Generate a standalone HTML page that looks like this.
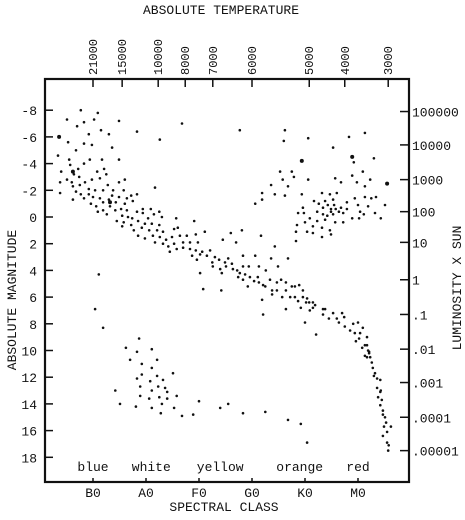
<!DOCTYPE html>
<html><head><meta charset="utf-8"><style>
html,body{margin:0;padding:0;background:#fff;}
svg{display:block;}
text{font-family:"Liberation Mono",monospace;fill:#111;}
</style></head><body>
<svg id="chart" width="465" height="520" viewBox="0 0 465 520" xmlns="http://www.w3.org/2000/svg">
<g id="axes"></g><g id="stars"></g>
</svg>
<script>
// Data: [spectral subclass (B0=0, A0=10, F0=20, G0=30, K0=40, M0=50), absolute magnitude]
const mainSequence = [[-2.3,-8.0],[0.9,-7.8],[-4.9,-7.3],[-1.7,-7.1],[0.2,-7.3],[4.9,-7.2],[-3.0,-6.8],[16.8,-7.0],[1.5,-6.5],[3.0,-6.2],[-0.8,-6.2],[8.3,-6.4],[12.6,-5.8],[-4.7,-5.6],[-1.7,-5.5],[-0.2,-5.4],[3.6,-5.2],[-3.2,-5.0],[-6.6,-4.6],[-4.5,-4.3],[-0.6,-4.3],[1.7,-4.3],[4.9,-4.3],[-1.7,-4.0],[-4.3,-3.9],[-2.8,-3.6],[2.1,-3.6],[-6.0,-3.4],[-3.6,-3.2],[0.8,-3.4],[2.5,-3.2],[-2.6,-3.0],[6.0,-2.8],[-4.9,-2.8],[-6.2,-2.6],[-4.0,-2.6],[-1.5,-2.6],[-0.2,-2.8],[1.3,-2.9],[4.9,-2.6],[-3.8,-2.3],[-2.5,-2.4],[2.8,-2.4],[11.7,-2.2],[-0.8,-2.1],[0.4,-2.0],[1.9,-2.0],[3.8,-2.0],[5.8,-2.0],[-6.2,-1.8],[-3.2,-1.9],[-2.3,-1.7],[-0.8,-1.7],[8.3,-1.7],[3.6,-1.6],[0,-1.5],[4.9,-1.5],[-3.8,-1.3],[-1.7,-1.4],[1.3,-1.4],[7.2,-1.6],[3.0,-1.3],[6.4,-1.4],[-0.4,-1.0],[1.9,-1.1],[4.3,-1.1],[7.5,-1.2],[0.6,-0.8],[6.0,-1.0],[3.2,-0.8],[1.9,-0.5],[9.4,-0.6],[10.9,-0.6],[5.3,-0.6],[0.9,-0.4],[4.2,-0.5],[6.4,-0.5],[8.3,-0.4],[12.5,-0.4],[2.6,-0.2],[5.5,-0.1],[9.4,-0.3],[11.5,-0.2],[6.6,0],[7.4,0.1],[10.4,0.1],[13.0,0],[15.7,0.1],[19.1,0.3],[4.5,0.3],[5.8,0.4],[8.5,0.3],[9.8,0.5],[11.1,0.5],[12.5,0.6],[5.5,0.7],[7.2,0.6],[7.7,1.0],[9.2,0.8],[10.6,1.0],[12.1,1.0],[13.2,1.1],[15.3,0.9],[16.0,0.8],[8.5,1.4],[9.8,1.6],[11.3,1.4],[12.6,1.5],[13.8,1.7],[14.9,1.5],[16.4,1.4],[17.7,1.4],[19.4,1.3],[21.1,1.1],[24.5,1.7],[11.7,1.9],[13.2,2.0],[14.2,2.2],[15.3,2.0],[17.0,1.9],[18.3,1.9],[19.8,1.9],[15.8,2.4],[17.0,2.3],[18.3,2.4],[19.4,2.5],[20.6,2.6],[22.1,2.5],[14.5,2.6],[18.7,2.9],[20.2,2.8],[21.5,2.9],[23.0,3.0],[23.8,3.2],[19.6,3.2],[22.5,3.4],[24.0,3.9],[24.3,4.2],[22.6,3.7],[25.1,3.7],[24.9,3.4],[25.5,3.1],[26.2,3.5],[26.4,3.9],[27.2,4.0],[28.3,3.7],[29.4,3.7],[27.7,4.2],[28.7,4.3],[27.4,4.5],[28.3,4.7],[29.6,4.5],[30.4,4.8],[29.2,5.2],[31.3,4.9],[31.1,4.5],[32.6,4.0],[32.1,5.1],[33.4,4.7],[31.3,3.7],[34.7,4.9],[35.5,4.7],[36.4,4.9],[33.8,5.5],[34.7,5.5],[32.5,5.2],[33.8,5.8],[35.7,6.0],[36.4,5.5],[37.5,5.2],[38.1,5.2],[38.9,5.1],[39.6,5.5],[37.2,6.0],[38.1,6.0],[38.7,6.3],[39.6,6.0],[40.4,6.1],[40.8,6.4],[41.5,6.4],[41.9,6.6],[40.2,6.4],[39.2,6.8],[40.9,7.0],[41.5,6.8],[43.4,6.9],[43.8,6.9],[43.4,7.3],[45.3,7.2],[44.5,7.6],[46.0,7.6],[47.0,7.2],[47.4,7.5],[46.4,7.9],[47.5,8.2],[48.5,8.5],[49.1,8.0],[49.4,8.7],[50.4,8.7],[50.2,9.1],[49.6,9.3],[51.3,9.6],[51.7,9.6],[50.8,9.8],[52.1,10.1],[51.3,10.4],[51.7,10.5],[50.0,7.9],[50.9,8.3],[51.7,9.0],[51.9,10.0],[52.3,10.5],[52.6,10.9],[52.8,11.3],[53.2,11.7],[53.6,12.1],[54.2,12.2],[53.6,12.8],[54.2,13.1],[53.8,13.5],[54.5,13.7],[54.2,14.1],[54.7,14.5],[54.7,14.8],[55.1,15.0],[55.3,15.4],[54.9,15.7],[56.2,15.7],[55.5,16.1],[54.7,16.4],[55.5,16.9],[55.8,17.1],[55.7,17.5],[54.3,13.0],[53.0,11.9],[52.1,10.2]];
const scattered = [[1.1,4.3],[20.2,4.2],[20.8,5.4],[24.2,5.5],[31.9,6.2],[32.1,7.3],[36.4,6.9],[40.0,7.9],[42.1,8.8],[26.0,1.2],[27.0,1.9],[28.1,1.0],[31.7,1.4],[28.3,2.9],[30.6,2.9],[34.3,2.2],[33.6,3.1],[34.9,3.7],[36.8,3.1]];
const whiteDwarfs = [[0.4,6.9],[1.9,8.3],[8.7,9.1],[6.2,9.8],[8.3,10.1],[11.1,9.9],[7.0,10.7],[9.2,11.0],[12.1,10.7],[11.1,11.3],[9.2,11.8],[8.3,12.1],[10.8,12.3],[12.1,11.9],[13.2,12.2],[15.1,11.7],[8.9,12.7],[11.1,13.0],[12.3,12.7],[13.6,12.8],[14.0,13.1],[4.2,13.0],[8.9,13.4],[10.6,13.6],[12.5,13.5],[14.0,13.6],[15.8,13.4],[5.1,14.0],[8.1,14.2],[11.1,14.3],[13.0,14.0],[15.3,14.3],[12.8,14.7],[16.8,14.9],[18.9,14.8],[20.0,13.8],[24.0,14.3],[25.5,14.0],[28.3,14.7],[32.5,14.6],[36.8,15.2],[39.2,15.5],[40.4,16.9]];
const giants = [[27.7,-6.5],[36.2,-6.5],[36.0,-5.7],[40.6,-5.9],[48.3,-6.0],[51.3,-6.3],[45.3,-5.2],[49.2,-4.1],[53.0,-4.4],[35.3,-3.4],[37.5,-3.4],[35.8,-2.8],[37.9,-3.0],[36.8,-2.3],[33.6,-2.4],[31.9,-1.8],[34.3,-1.7],[36.2,-1.6],[31.9,-1.3],[30.6,-1.0],[40.6,-2.8],[45.7,-2.9],[46.8,-2.6],[48.9,-3.1],[50.9,-3.4],[52.3,-2.8],[49.8,-2.6],[51.3,-2.3],[39.4,-1.7],[43.2,-1.8],[44.7,-1.7],[46.0,-1.8],[49.4,-1.4],[51.3,-1.5],[52.5,-1.4],[53.4,-1.5],[41.7,-1.2],[42.6,-1.0],[43.8,-1.2],[44.3,-0.9],[45.3,-1.3],[45.5,-0.9],[47.9,-1.1],[39.6,-0.7],[43.4,-0.7],[44.9,-0.6],[45.8,-0.6],[46.8,-0.7],[47.9,-0.6],[50.0,-0.9],[51.9,-0.8],[55.1,-0.9],[42.3,-0.4],[43.4,-0.2],[44.9,-0.4],[46.4,-0.4],[38.7,-0.3],[39.8,-0.3],[44.2,-0.1],[45.3,-0.2],[47.2,-0.3],[50.4,-0.4],[51.1,-0.2],[53.2,-0.3],[40.9,0.1],[42.3,0.3],[43.8,0.2],[45.7,0.4],[47.2,0.4],[48.9,0.1],[50.2,0.1],[54.3,0.1],[38.5,0.6],[40.0,0.4],[41.5,0.7],[43.2,0.8],[44.7,1.0],[40.4,1.1],[38.3,1.1],[41.5,1.2],[43.2,1.5],[44.9,1.3],[38.3,1.8]];
const brightStars = [[-6.4,-6.0],[48.9,-4.5],[39.4,-4.2],[55.5,-2.5],[-3.8,-3.4],[3.2,-1.1]];
const magTicks = [-8,-6,-4,-2,0,2,4,6,8,10,12,14,16,18];
const specClasses = ["B0","A0","F0","G0","K0","M0"];
const colorNames = ["blue","white","yellow","orange","red"];
const colorPos = [0,11,24,39,50];
const tempLabels = ["21000","15000","10000","8000","7000","6000","5000","4000","3000"];
const tempPos = [0,5.5,12.3,17.4,22.6,30,40.8,47.5,55.7];
const lumLabels = ["100000","10000","1000","100","10","1",".1",".01",".001",".0001",".00001"];
const lumMag = [-7.9,-5.4,-2.8,-0.4,1.9,4.7,7.3,9.9,12.4,15,17.5];

const NS='http://www.w3.org/2000/svg';
const L=45,R=409,T=79,B=482;
const xs = s => 93 + s*5.3;
const ys = m => 217 + m*13.35;
const axes=document.getElementById('axes'), stars=document.getElementById('stars');
function mk(tag, attrs, parent, txt){const e=document.createElementNS(NS,tag);for(const k in attrs)e.setAttribute(k,attrs[k]);if(txt!==undefined)e.textContent=txt;parent.appendChild(e);return e;}

let e;
e=mk('rect',{x:L,y:T,width:R-L,height:B-T,fill:'none',stroke:'#111','stroke-width':2.2},axes);


e=mk('text',{x:221,y:14,'text-anchor':'middle','font-size':13},axes,'ABSOLUTE TEMPERATURE');


e=mk('text',{x:224,y:511,'text-anchor':'middle','font-size':13},axes,'SPECTRAL CLASS');


e=mk('text',{x:0,y:0,'text-anchor':'middle','font-size':13,transform:'translate(16,300) rotate(-90)'},axes,'ABSOLUTE MAGNITUDE');


e=mk('text',{x:0,y:0,'text-anchor':'middle','font-size':13,transform:'translate(461,288) rotate(-90)'},axes,'LUMINOSITY X SUN');



magTicks.forEach(m=>{
  const y=ys(m);
  e=mk('line',{x1:L,x2:L+8,y1:y,y2:y,stroke:'#111','stroke-width':1.5},axes);
  
  
  e=mk('text',{x:37,y:y+5,'text-anchor':'end','font-size':13},axes,String(m));
  
  
});
lumLabels.forEach((lab,i)=>{
  const y=ys(lumMag[i]);
  e=mk('line',{x1:R-9,x2:R,y1:y,y2:y,stroke:'#111','stroke-width':1.5},axes);
  
  
  e=mk('text',{x:412,y:y+5,'font-size':13},axes,lab);
  
  
});
tempLabels.forEach((lab,i)=>{
  const x=xs(tempPos[i]);
  e=mk('line',{x1:x,x2:x,y1:T,y2:T+8,stroke:'#111','stroke-width':1.5},axes);
  
  
  e=mk('text',{x:0,y:0,'font-size':12,transform:`translate(${x+4},75) rotate(-90)`},axes,lab);
  
  
});
specClasses.forEach((lab,i)=>{
  const x=xs(i*10);
  e=mk('line',{x1:x,x2:x,y1:B-4,y2:B,stroke:'#111','stroke-width':1.5},axes);
  
  
  e=mk('text',{x:x,y:497,'text-anchor':'middle','font-size':13},axes,lab);
  
  
});
colorNames.forEach((lab,i)=>{
  e=mk('text',{x:xs(colorPos[i]),y:471,'text-anchor':'middle','font-size':13},axes,lab);
  
  
});
function plot(arr,name,r){
  arr.forEach(p=>{
    const c=mk('circle',{cx:xs(p[0]).toFixed(1),cy:ys(p[1]).toFixed(1),r:r,fill:'#111'},stars);
    
    
  });
}
plot(mainSequence,'main-sequence-star',1.3);
plot(scattered,'scattered-star',1.3);
plot(whiteDwarfs,'white-dwarf-star',1.3);
plot(giants,'giant-star',1.3);
plot(brightStars,'bright-star',2);
</script>
</body></html>
